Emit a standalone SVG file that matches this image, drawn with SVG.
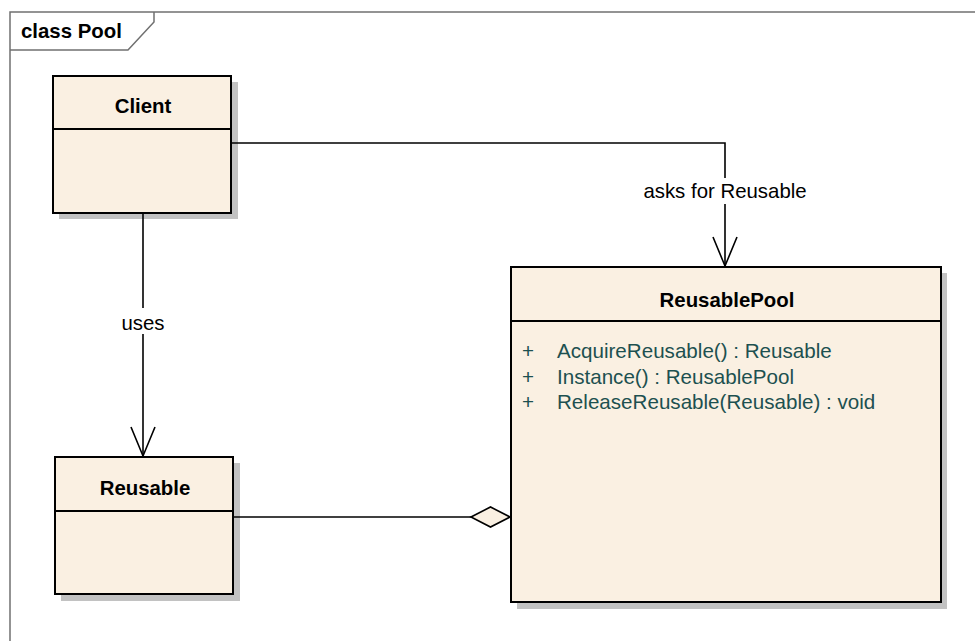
<svg xmlns="http://www.w3.org/2000/svg" width="975" height="641" viewBox="0 0 975 641">
<style>
.frame{fill:none;stroke:#707070;stroke-width:1.5}
.box{fill:#faf0e2;stroke:#000;stroke-width:2}
.shadow{fill:#c2c2c2}
.div{stroke:#000;stroke-width:2}
.title{font-family:"Liberation Sans",Arial,sans-serif;font-weight:bold;font-size:20.4px;fill:#000;text-anchor:middle}
.op{font-family:"Liberation Sans",Arial,sans-serif;font-size:20.6px;fill:#1d5050}
.lbl{font-family:"Liberation Sans",Arial,sans-serif;font-size:20.4px;fill:#000;text-anchor:middle}
.conn{fill:none;stroke:#000;stroke-width:1.6}
</style>
<rect width="975" height="641" fill="#fff"/>
<g id="frame">
<path class="frame" d="M10,641 V12 H975"/>
<path class="frame" d="M154,12 V22 L128,50 H10"/>
<text x="21" y="38" font-family="Liberation Sans,Arial,sans-serif" font-weight="bold" font-size="20.4px">class Pool</text>
</g>
<g id="Client">
<rect class="shadow" x="59" y="82" width="179" height="137"/>
<rect class="box" x="53" y="76" width="178" height="137"/>
<line class="div" x1="53" y1="129" x2="231" y2="129"/>
<text class="title" x="143" y="113">Client</text>
</g>
<g id="Reusable">
<rect class="shadow" x="61" y="463" width="179" height="138"/>
<rect class="box" x="55" y="457" width="178" height="137"/>
<line class="div" x1="55" y1="511" x2="233" y2="511"/>
<text class="title" x="145" y="495">Reusable</text>
</g>
<g id="ReusablePool">
<rect class="shadow" x="517" y="273" width="430" height="336"/>
<rect class="box" x="511" y="267" width="430" height="335"/>
<line class="div" x1="511" y1="321" x2="941" y2="321"/>
<text class="title" x="727" y="307">ReusablePool</text>
<text class="op" x="522" y="358">+</text>
<text class="op" x="557" y="358">AcquireReusable() : Reusable</text>
<text class="op" x="522" y="384">+</text>
<text class="op" x="557" y="384">Instance() : ReusablePool</text>
<text class="op" x="522" y="409">+</text>
<text class="op" x="557" y="409">ReleaseReusable(Reusable) : void</text>
</g>
<g id="connectors">
<path class="conn" d="M232,143 H725 V266"/>
<path class="conn" d="M713,237 L725,266 L737,237"/>
<rect x="640" y="178" width="170" height="26" fill="#fff"/>
<text class="lbl" x="725" y="198">asks for Reusable</text>
<path class="conn" d="M143,214 V456"/>
<path class="conn" d="M131,427 L143,456 L155,427"/>
<rect x="118" y="308" width="50" height="26" fill="#fff"/>
<text class="lbl" x="143" y="330">uses</text>
<path class="conn" d="M234,517 H471"/>
<path d="M471,517 L490.5,507 L510,517 L490.5,527 Z" fill="#faf0e2" stroke="#000" stroke-width="1.6"/>
</g>
</svg>
